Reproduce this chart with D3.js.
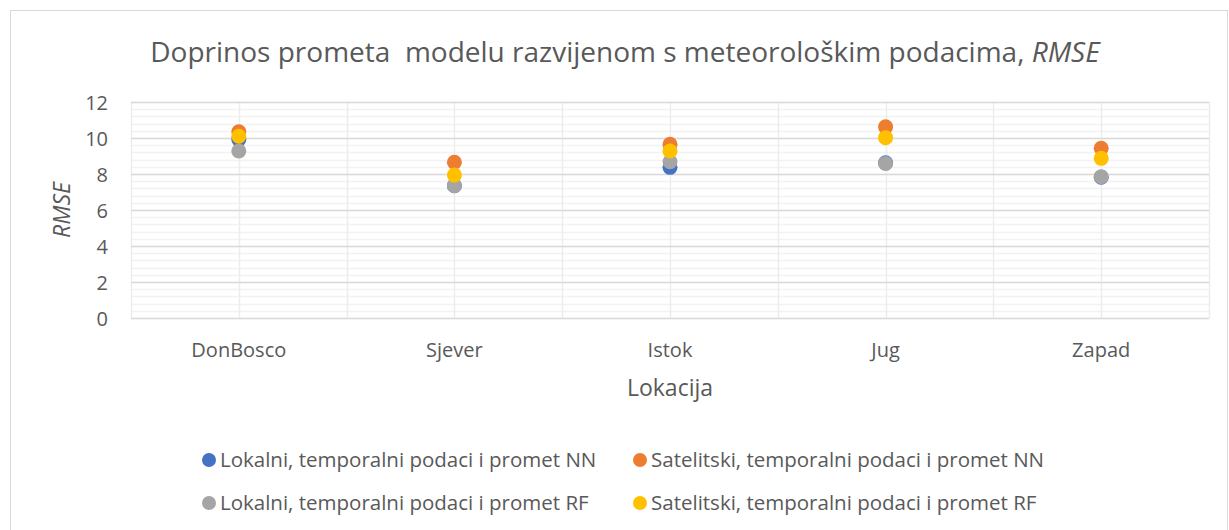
<!DOCTYPE html>
<html>
<head>
<meta charset="utf-8">
<script src="https://cdn.jsdelivr.net/npm/d3@7"></script>
<style>
  body { margin: 0; background: #fff; }
  svg text { font-family: "Open Sans", "Noto Sans", sans-serif; fill: #595959; }
</style>
</head>
<body>
<div id="chart"></div>
<script>
let categories = ['DonBosco', 'Sjever', 'Istok', 'Jug', 'Zapad'];
let seriesNames = [
    'Lokalni, temporalni podaci i promet NN',
    'Satelitski, temporalni podaci i promet NN',
    'Lokalni, temporalni podaci i promet RF',
    'Satelitski, temporalni podaci i promet RF'
];
let seriesColors = ['#4472C4', '#ED7D31', '#A5A5A5', '#FFC000'];
let lokalniNN = [9.92, 7.35, 8.37, 8.62, 7.82];
let satelitskiNN = [10.35, 8.65, 9.65, 10.62, 9.43];
let lokalniRF = [9.28, 7.35, 8.68, 8.59, 7.85];
let satelitskiRF = [10.1, 7.94, 9.28, 10.02, 8.87];
let yTicks = [0, 2, 4, 6, 8, 10, 12];

let allSeries = [lokalniNN, satelitskiNN, lokalniRF, satelitskiRF];

let width = 1229, height = 530;
let margin = { "top": 102, "bottom": 212, "left": 131, "right": 20 };

let svg = d3.select('#chart').append('svg')
    .attr('width', width).attr('height', height);

// outer chart border
svg.append('rect')
    .attr('x', 10.5).attr('y', 10.5)
    .attr('width', 1217).attr('height', 540)
    .attr('fill', 'none')
    .attr('stroke', '#d9d9d9');

let xScale = d3.scaleBand()
    .domain(categories)
    .range([margin.left, width - margin.right])
    .padding(0);
let yScale = d3.scaleLinear()
    .domain([0, 12])
    .range([height - margin.bottom, margin.top]);

// minor gridlines
let minorTicks = d3.range(0, 12.001, 0.4);
svg.append('g').selectAll('line')
    .data(minorTicks)
    .enter().append('line')
    .attr('x1', margin.left).attr('x2', width - margin.right)
    .attr('y1', d => Math.round(yScale(d)) + 0.5)
    .attr('y2', d => Math.round(yScale(d)) + 0.5)
    .attr('stroke', '#f2f2f2')
    .attr('stroke-width', 1.5);

// vertical gridlines at band edges and centers
let vLines = [];
categories.forEach(c => {
    vLines.push(xScale(c));
    vLines.push(xScale(c) + xScale.bandwidth() / 2);
});
vLines.push(width - margin.right);
svg.append('g').selectAll('line')
    .data(vLines)
    .enter().append('line')
    .attr('x1', d => Math.round(d) + 0.5).attr('x2', d => Math.round(d) + 0.5)
    .attr('y1', margin.top).attr('y2', height - margin.bottom)
    .attr('stroke', '#ececec')
    .attr('stroke-width', 1.5);

// major gridlines
svg.append('g').selectAll('line')
    .data(yTicks)
    .enter().append('line')
    .attr('x1', margin.left).attr('x2', width - margin.right)
    .attr('y1', d => Math.round(yScale(d)) + 0.5)
    .attr('y2', d => Math.round(yScale(d)) + 0.5)
    .attr('stroke', '#d9d9d9')
    .attr('stroke-width', 1.5);

// y axis labels
let yAxis = d3.axisLeft(yScale).tickValues(yTicks).tickSize(0).tickPadding(0);
let yg = svg.append('g')
    .attr('transform', 'translate(' + 108 + ',0)')
    .call(yAxis);
yg.select('.domain').remove();
yg.selectAll('text')
    .style('font-size', '20px')
    .attr('fill', '#595959')
    .attr('dy', '0.35em');

// x axis labels
let xAxis = d3.axisBottom(xScale).tickSize(0).tickPadding(0);
let xg = svg.append('g')
    .attr('transform', 'translate(0,' + (height - margin.bottom) + ')')
    .call(xAxis);
xg.select('.domain').remove();
xg.selectAll('text')
    .style('font-size', '20px')
    .attr('fill', '#595959')
    .attr('dy', null)
    .attr('y', 39);

// title
let title = svg.append('text')
    .attr('x', 625).attr('y', 62)
    .attr('text-anchor', 'middle')
    .style('font-size', '28px');
title.append('tspan').text('Doprinos prometa\u00a0 modelu razvijenom s meteorološkim podacima, ');
title.append('tspan').style('font-style', 'italic').text('RMSE');

// axis titles
svg.append('text')
    .attr('transform', 'translate(70,210) rotate(-90)')
    .attr('text-anchor', 'middle')
    .style('font-size', '23px')
    .style('font-style', 'italic')
    .text('RMSE');
svg.append('text')
    .attr('x', 670).attr('y', 396)
    .attr('text-anchor', 'middle')
    .style('font-size', '23px')
    .text('Lokacija');

// points
allSeries.forEach((vals, si) => {
    svg.append('g').selectAll('circle')
        .data(vals)
        .enter().append('circle')
        .attr('cx', (d, i) => xScale(categories[i]) + xScale.bandwidth() / 2)
        .attr('cy', d => yScale(d))
        .attr('r', 7.5)
        .attr('fill', seriesColors[si]);
});

// legend
let legendPos = [[209, 460], [640, 460], [209, 503], [640, 503]];
seriesNames.forEach((name, i) => {
    let g = svg.append('g')
        .attr('transform', 'translate(' + legendPos[i][0] + ',' + legendPos[i][1] + ')');
    g.append('circle').attr('r', 7).attr('fill', seriesColors[i]);
    g.append('text')
        .attr('x', 11).attr('dy', '0.35em')
        .style('font-size', '20.5px')
        .text(name);
});
</script>
</body>
</html>
